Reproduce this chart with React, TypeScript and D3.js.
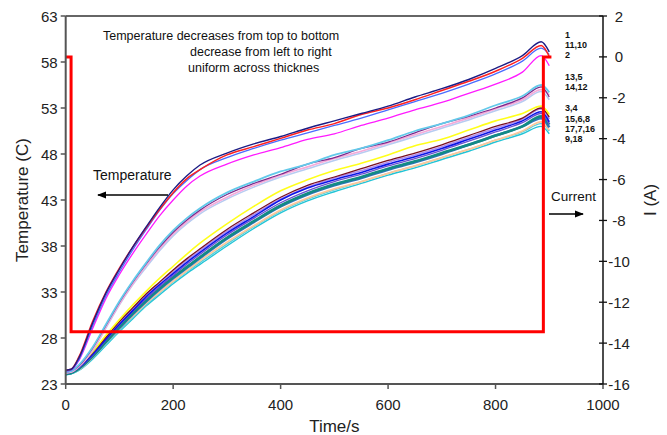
import React from "react";
import * as d3 from "d3";

const W = 667;
const H = 435;

// time axis (s) shared by every thermocouple series
const time = [0, 10, 25, 50, 75, 100, 125, 150, 175, 200, 225, 250, 300, 350, 400, 450, 500, 550, 600, 650, 700, 750, 800, 850, 885, 900];

// group: top (1, 11, 10, 2)
const tc1 = [24.5, 24.6, 25.9, 29.6, 32.9, 35.5, 37.9, 40.1, 42.2, 44.1, 45.6, 46.8, 48.1, 49.1, 49.9, 50.8, 51.6, 52.4, 53.2, 54.2, 55.1, 56.1, 57.3, 58.7, 60.2, 59.1];
const tc11 = [24.5, 24.6, 26.0, 29.8, 33.0, 35.6, 37.9, 40.0, 42.0, 43.8, 45.3, 46.3, 47.9, 48.8, 49.7, 50.6, 51.3, 52.3, 53.0, 53.9, 54.9, 55.9, 57.0, 58.4, 59.8, 58.6];
const tc10 = [24.4, 24.5, 25.7, 29.3, 32.6, 35.2, 37.6, 39.8, 41.9, 43.7, 45.1, 46.3, 47.6, 48.6, 49.5, 50.3, 51.1, 51.9, 52.8, 53.7, 54.6, 55.6, 56.7, 58.1, 59.5, 58.8];
const tc2 = [24.4, 24.5, 25.6, 29.0, 32.3, 34.9, 37.2, 39.3, 41.3, 43.0, 44.5, 45.6, 46.9, 47.9, 48.7, 49.6, 50.2, 51.1, 51.9, 52.8, 53.6, 54.6, 55.6, 56.9, 58.7, 57.6];
// group: middle (13, 5, 14, 12)
const tc13 = [24.3, 24.4, 25.1, 27.0, 29.5, 32.0, 34.2, 36.2, 38.1, 39.7, 41.0, 42.1, 43.8, 45.0, 46.1, 46.9, 47.9, 48.6, 49.5, 50.5, 51.3, 52.2, 53.3, 54.3, 55.5, 54.7];
const tc5 = [24.3, 24.4, 25.0, 26.9, 29.4, 31.9, 34.1, 36.1, 37.9, 39.5, 40.8, 41.9, 43.6, 44.8, 45.8, 46.9, 47.6, 48.6, 49.3, 50.3, 51.3, 52.1, 53.0, 54.1, 55.3, 54.2];
const tc14 = [24.2, 24.3, 24.9, 26.7, 29.2, 31.7, 33.9, 35.9, 37.7, 39.3, 40.6, 41.7, 43.3, 44.6, 45.7, 46.6, 47.5, 48.3, 49.2, 50.1, 51.0, 51.9, 52.9, 53.9, 55.0, 54.4];
const tc12 = [24.2, 24.3, 24.9, 26.6, 29.1, 31.6, 33.8, 35.7, 37.5, 39.1, 40.4, 41.5, 43.1, 44.4, 45.5, 46.4, 47.3, 48.1, 49.0, 49.9, 50.8, 51.7, 52.7, 53.7, 54.8, 53.9];
// group: bottom (3, 4, 15, 6, 8, 17, 7, 16, 9, 18)
const tc3 = [24.3, 24.4, 25.0, 26.5, 28.3, 30.0, 31.6, 33.1, 34.5, 35.8, 37.1, 38.3, 40.4, 42.3, 44.0, 45.2, 46.2, 47.0, 47.9, 48.9, 49.6, 50.6, 51.6, 52.4, 53.2, 52.3];
const tc4 = [24.2, 24.3, 24.9, 26.4, 28.1, 29.8, 31.3, 32.8, 34.1, 35.4, 36.6, 37.7, 39.8, 41.6, 43.3, 44.6, 45.5, 46.4, 47.3, 48.1, 49.0, 50.0, 51.0, 51.9, 53.0, 52.0];
const tc15 = [24.2, 24.3, 24.9, 26.3, 28.0, 29.7, 31.2, 32.7, 34.0, 35.2, 36.4, 37.5, 39.6, 41.4, 43.1, 44.4, 45.4, 46.2, 47.1, 47.9, 48.8, 49.8, 50.8, 51.8, 52.9, 51.8];
const tc6 = [24.2, 24.3, 24.8, 26.2, 27.9, 29.5, 31.0, 32.5, 33.8, 35.0, 36.2, 37.3, 39.4, 41.2, 43.0, 44.3, 45.2, 46.0, 46.9, 47.7, 48.6, 49.6, 50.6, 51.6, 52.6, 51.5];
const tc8 = [24.2, 24.3, 24.8, 26.1, 27.8, 29.4, 30.9, 32.3, 33.6, 34.8, 36.0, 37.1, 39.2, 41.0, 42.7, 44.0, 45.0, 45.8, 46.7, 47.5, 48.4, 49.4, 50.4, 51.4, 52.4, 51.2];
const tc17 = [24.1, 24.2, 24.7, 26.0, 27.6, 29.2, 30.7, 32.1, 33.4, 34.6, 35.7, 36.8, 38.9, 40.7, 42.4, 43.7, 44.7, 45.5, 46.4, 47.2, 48.1, 49.0, 50.0, 51.0, 52.1, 51.2];
const tc7 = [24.1, 24.2, 24.7, 26.0, 27.6, 29.1, 30.6, 32.0, 33.3, 34.5, 35.6, 36.7, 38.8, 40.6, 42.3, 43.6, 44.6, 45.4, 46.3, 47.1, 48.0, 49.0, 50.0, 51.0, 51.9, 50.9];
const tc16 = [24.1, 24.2, 24.6, 25.9, 27.5, 29.0, 30.4, 31.8, 33.0, 34.2, 35.3, 36.4, 38.4, 40.2, 41.9, 43.2, 44.2, 45.0, 45.9, 46.7, 47.6, 48.5, 49.5, 50.5, 51.5, 50.6];
const tc9 = [24.0, 24.1, 24.5, 25.7, 27.2, 28.7, 30.1, 31.5, 32.7, 33.9, 35.0, 36.0, 38.0, 39.9, 41.6, 42.9, 43.9, 44.8, 45.7, 46.5, 47.4, 48.3, 49.3, 50.2, 51.0, 50.2];
const tc18 = [24.0, 24.1, 24.5, 25.8, 27.3, 28.8, 30.2, 31.6, 32.9, 34.1, 35.2, 36.2, 38.2, 40.1, 41.8, 43.1, 44.1, 45.0, 45.9, 46.7, 47.6, 48.5, 49.5, 50.4, 51.3, 50.5];

// applied current (A)
const currentTime = [0, 10, 10, 889, 889, 904];
const currentAmps = [0, 0, -13.45, -13.45, 0, 0];

// ticks
const timeTicks = [0, 200, 400, 600, 800, 1000];
const tempTicks = [23, 28, 33, 38, 43, 48, 53, 58, 63];
const ampTicks = [2, 0, -2, -4, -6, -8, -10, -12, -14, -16];

// thermocouple group labels (top to bottom)
const groupLabels = ["1", "11,10", "2", "13,5", "14,12", "3,4", "15,6,8", "17,7,16", "9,18"];

const annotationLines = [
  "Temperature decreases from top to bottom",
  "decrease from left to right",
  "uniform across thicknes",
];

// drawing order and styles (bottom lines drawn first)
const seriesStyle: [number[], string, number][] = [
  [tc9, "#22c4d6", 1.4],
  [tc18, "#56d0dc", 1.4],
  [tc16, "#ffc79a", 1.8],
  [tc7, "#2f73b8", 2.6],
  [tc17, "#138a84", 2.6],
  [tc8, "#6a4fd0", 1.3],
  [tc15, "#b08cf0", 1.6],
  [tc6, "#0a14e8", 1.6],
  [tc4, "#7a1020", 1.3],
  [tc3, "#ffff1a", 1.6],
  [tc12, "#b7ccf2", 1.6],
  [tc14, "#f6a9d8", 1.6],
  [tc5, "#7d2a8c", 1.3],
  [tc13, "#63c9ea", 1.8],
  [tc2, "#ff1aff", 1.3],
  [tc10, "#4a6cff", 1.3],
  [tc11, "#ff2020", 1.5],
  [tc1, "#1c1c84", 1.4],
];

export default function App() {
  const left = 65.7;
  const right = 603;
  const top = 16;
  const bottom = 384;

  const x = d3.scaleLinear().domain([0, 1000]).range([left, right]);
  const yT = d3.scaleLinear().domain([23, 63]).range([bottom, top]);
  const yI = d3.scaleLinear().domain([-16, 2]).range([bottom, top]);

  const tempLine = d3
    .line<number>()
    .x((_, i) => x(time[i]))
    .y((d) => yT(d))
    .curve(d3.curveMonotoneX);

  const curLine = d3
    .line<number>()
    .x((_, i) => x(currentTime[i]))
    .y((d) => yI(d));

  const font = "'Liberation Sans', Arial, sans-serif";
  const labelY = [34, 44.5, 54.5, 76, 86.5, 107.5, 118, 128.5, 138.5];

  return (
    <svg width={W} height={H} style={{ position: "absolute", left: 0, top: 0, background: "#fff" }} fontFamily={font}>
      <defs>
        <marker id="ah" viewBox="0 0 10 10" refX="9" refY="5" markerWidth="7" markerHeight="7" orient="auto-start-reverse">
          <path d="M0,1 L10,5 L0,9 z" fill="#000" />
        </marker>
      </defs>
      <rect x={0} y={0} width={W} height={H} fill="#fff" />

      {/* temperature series */}
      <g fill="none" strokeLinejoin="round">
        {seriesStyle.map(([vals, color, w], i) => (
          <path key={i} d={tempLine(vals) || ""} stroke={color} strokeWidth={w} />
        ))}
      </g>

      {/* current */}
      <path d={curLine(currentAmps) || ""} fill="none" stroke="#ff0000" strokeWidth={3} strokeLinejoin="miter" />

      {/* frame */}
      <line x1={left} x2={right} y1={top} y2={top} stroke="#333" strokeWidth={1.5} />
      <line x1={left} x2={left} y1={top} y2={bottom} stroke="#555" strokeWidth={2} />
      <line x1={left} x2={right} y1={bottom} y2={bottom} stroke="#555" strokeWidth={2} />
      <line x1={right} x2={right} y1={top} y2={bottom} stroke="#111" strokeWidth={1.5} />

      {/* left axis */}
      {tempTicks.map((t) => (
        <g key={"t" + t}>
          <line x1={left - 5} x2={left} y1={yT(t)} y2={yT(t)} stroke="#555" strokeWidth={1.5} />
          <text x={left - 8} y={yT(t) + 5.5} fontSize={15} textAnchor="end" fill="#222">
            {t}
          </text>
        </g>
      ))}
      {/* bottom axis */}
      {timeTicks.map((t) => (
        <g key={"x" + t}>
          <line x1={x(t)} x2={x(t)} y1={bottom} y2={bottom + 5} stroke="#555" strokeWidth={1.5} />
          <text x={x(t)} y={bottom + 26} fontSize={15} textAnchor="middle" fill="#222">
            {t}
          </text>
        </g>
      ))}
      {/* right axis */}
      {ampTicks.map((a) => (
        <g key={"a" + a}>
          <line x1={right - 4} x2={right + 4} y1={yI(a)} y2={yI(a)} stroke="#111" strokeWidth={1.3} />
          <text x={right + 16} y={yI(a) + 5.5} fontSize={15} textAnchor="middle" fill="#222">
            {String(a)}
          </text>
        </g>
      ))}

      {/* axis titles */}
      <text x={(left + right) / 2} y={432} fontSize={17} textAnchor="middle" fill="#222">
        Time/s
      </text>
      <text transform={`translate(28,${(top + bottom) / 2}) rotate(-90)`} fontSize={17} textAnchor="middle" fill="#222">
        Temperature (C)
      </text>
      <text transform={`translate(656,${(top + bottom) / 2}) rotate(-90)`} fontSize={17} textAnchor="middle" fill="#222">
        I (A)
      </text>

      {/* annotations */}
      <text x={103} y={40} fontSize={12.5} fill="#111">{annotationLines[0]}</text>
      <text x={190} y={56} fontSize={12.5} fill="#111">{annotationLines[1]}</text>
      <text x={188} y={72} fontSize={12.5} fill="#111">{annotationLines[2]}</text>

      <text x={93} y={180} fontSize={14} fill="#111">Temperature</text>
      <line x1={168} x2={98} y1={195} y2={195} stroke="#000" strokeWidth={1.3} markerEnd="url(#ah)" />

      <text x={551} y={201} fontSize={13.5} fill="#111">Current</text>
      <line x1={549} x2={583} y1={214} y2={214} stroke="#000" strokeWidth={1.3} markerEnd="url(#ah)" />

      {groupLabels.map((l, i) => (
        <text key={l} x={565} y={labelY[i] + 3.5} fontSize={9} fontWeight="bold" fill="#111">
          {l}
        </text>
      ))}
    </svg>
  );
}
